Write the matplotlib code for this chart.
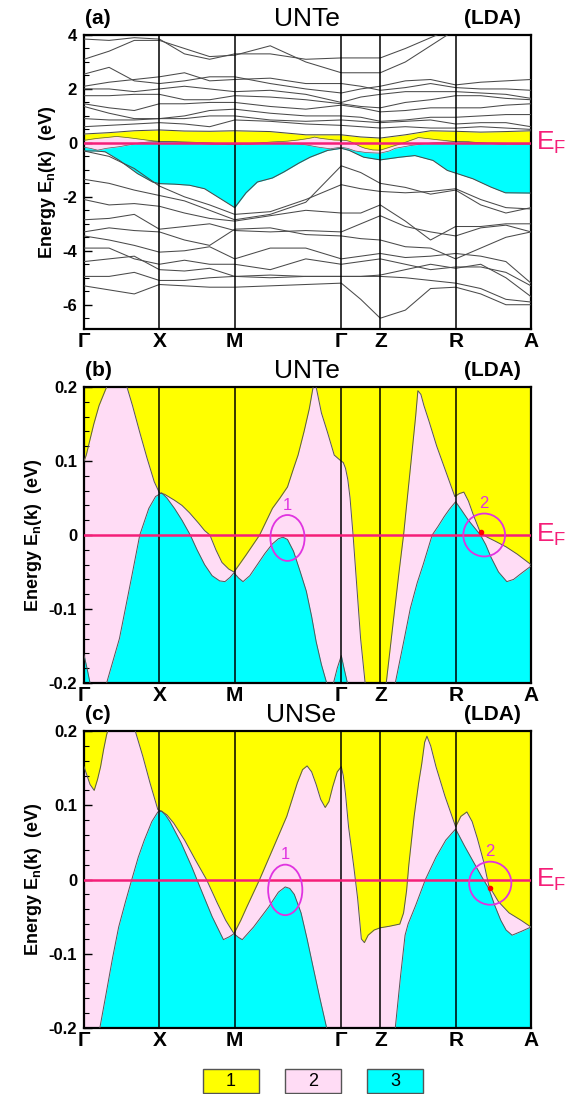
import numpy as np
import matplotlib
matplotlib.use('Agg')
import matplotlib.pyplot as plt
from matplotlib.patches import Ellipse, Rectangle
from matplotlib.ticker import MultipleLocator

plt.rcParams['font.family'] = ['Liberation Sans', 'DejaVu Sans']
plt.rcParams['axes.unicode_minus'] = False
plt.rcParams['mathtext.fontset'] = 'custom'
plt.rcParams['mathtext.rm'] = 'Liberation Sans'
plt.rcParams['mathtext.bf'] = 'Liberation Sans:bold'

# high-symmetry points along the path
kpts = [0.0, 1.0, 2.0, 3.414, 3.931, 4.931, 5.931]
klabels = ['Γ', 'X', 'M', 'Γ', 'Z', 'R', 'A']

# ---------- panel (a): UNTe bands over the wide window ----------
k18 = [0.0, 0.333, 0.667, 1.0, 1.333, 1.667, 2.0, 2.471, 2.943, 3.414,
       3.672, 3.931, 4.264, 4.598, 4.931, 5.264, 5.598, 5.931]
bands_up = [
    [3.85, 3.8, 3.9, 3.85, 3.3, 3.1, 3.3, 3.3, 3.1, 3.15, 3.15, 3.15, 3.5, 3.9, 4.3, 4.5, 4.5, 4.5],
    [3.1, 3.4, 3.8, 3.8, 3.5, 3.2, 3.25, 3.6, 3.0, 2.6, 2.6, 2.6, 3.0, 3.6, 4.2, 4.5, 4.5, 4.5],
    [2.55, 2.8, 2.3, 2.2, 2.3, 2.45, 2.45, 2.2, 2.0, 1.85, 2.0, 2.1, 2.3, 2.35, 2.15, 2.25, 2.3, 2.35],
    [2.1, 2.25, 2.35, 2.45, 2.6, 2.3, 2.35, 2.4, 2.2, 2.2, 2.1, 1.95, 2.05, 2.2, 2.05, 2.0, 2.0, 1.95],
    [2.0, 2.0, 1.9, 2.0, 2.1, 2.0, 1.9, 1.95, 1.8, 1.5, 1.7, 1.8, 1.9, 1.9, 1.9, 1.85, 1.8, 1.65],
    [1.75, 1.75, 1.8, 1.8, 1.6, 1.6, 1.75, 1.7, 1.6, 1.45, 1.35, 1.3, 1.5, 1.6, 1.75, 1.75, 1.65, 1.6],
    [1.45, 1.3, 1.2, 1.45, 1.45, 1.5, 1.5, 1.35, 1.25, 1.4, 1.3, 1.15, 1.2, 1.3, 1.3, 1.3, 1.4, 1.45],
    [1.35, 1.1, 0.9, 0.9, 1.0, 1.2, 1.25, 1.1, 1.0, 1.0, 0.95, 0.8, 0.85, 0.95, 0.95, 1.0, 1.05, 1.05],
    [0.9, 0.85, 0.85, 0.9, 0.9, 1.0, 1.0, 0.85, 0.8, 0.85, 0.8, 0.75, 0.8, 0.85, 0.7, 0.75, 0.75, 0.6],
    [0.6, 0.65, 0.7, 0.75, 0.7, 0.6, 0.85, 0.8, 0.7, 0.65, 0.6, 0.55, 0.6, 0.55, 0.55, 0.6, 0.55, 0.5],
]
band_top = [0.33, 0.38, 0.45, 0.48, 0.44, 0.43, 0.45, 0.42, 0.3, 0.3, 0.22, 0.18, 0.3, 0.45, 0.43, 0.4, 0.42, 0.45]
bands_low = [
    [-0.3, -0.5, -0.95, -1.6, -2.0, -2.3, -2.65, -2.55, -2.1, -1.55, -1.7, -1.8, -1.85, -1.8, -1.7, -2.1, -2.4, -2.45],
    [-1.35, -1.5, -1.75, -1.95, -2.15, -2.5, -2.85, -2.65, -2.2, -0.85, -1.1, -1.5, -1.65, -1.9, -1.75, -2.3, -2.6, -2.4],
    [-2.1, -2.3, -2.25, -2.35, -2.6, -2.8, -2.9, -2.7, -2.5, -2.6, -2.6, -2.3, -2.9, -3.6, -3.1, -3.1, -3.0, -3.0],
    [-2.85, -2.8, -2.65, -3.2, -3.1, -3.0, -3.25, -3.3, -3.25, -3.3, -3.0, -2.7, -3.1, -3.3, -3.45, -3.15, -3.05, -3.3],
    [-3.3, -3.15, -3.25, -3.3, -3.6, -3.8, -3.2, -3.15, -3.4, -3.45, -3.55, -3.6, -3.85, -3.9, -4.3, -3.9, -3.5, -3.3],
    [-3.45, -3.6, -3.8, -4.05, -4.0, -3.85, -4.3, -3.9, -3.9, -4.3, -4.2, -4.1, -4.25, -4.2, -4.1, -4.2, -4.4, -5.2],
    [-3.9, -3.9, -4.3, -4.5, -4.35, -4.5, -4.5, -4.7, -4.3, -4.5, -4.4, -4.3, -4.5, -4.7, -4.6, -4.6, -4.8, -5.3],
    [-4.4, -4.3, -4.2, -4.7, -4.75, -4.65, -4.95, -4.9, -4.95, -4.95, -4.95, -4.9, -4.7, -4.5, -4.65, -4.5, -5.0, -5.7],
    [-4.95, -4.95, -4.8, -5.1, -5.1, -5.0, -4.95, -5.0, -4.95, -4.95, -4.95, -4.95, -5.0, -5.1, -5.2, -5.4, -5.8, -5.9],
    [-5.3, -5.45, -5.6, -5.25, -5.3, -5.35, -5.35, -5.3, -5.25, -5.2, -5.8, -6.5, -6.2, -5.4, -5.35, -5.6, -6.0, -6.0],
]
# lower edge of the cyan sheet in (a)
k_bot = [0.0, 0.15, 0.28, 0.47, 0.71, 0.91, 1.0, 1.2, 1.4, 1.6, 1.8, 2.0, 2.15, 2.3, 2.5, 2.65,
         2.85, 3.0, 3.23, 3.414, 3.52, 3.71, 3.931, 4.19, 4.39, 4.63, 4.82, 4.931, 5.16, 5.4, 5.59, 5.931]
e_bot = [-0.3, -0.3, -0.33, -0.65, -1.14, -1.45, -1.51, -1.53, -1.57, -1.7, -2.05, -2.4, -1.85, -1.45,
         -1.3, -1.08, -0.75, -0.53, -0.28, -0.2, -0.28, -0.53, -0.63, -0.53, -0.47, -0.65, -1.02, -1.12,
         -1.33, -1.64, -1.85, -1.86]

# ---------- UNTe bands near E_F (panel b, also used in a) ----------
k_te1 = [0.0, 0.03, 0.07, 0.13, 0.2, 0.3, 0.43, 0.57, 0.643, 0.739, 0.836, 0.932, 1.0, 1.07, 1.2, 1.3,
         1.4, 1.52, 1.6, 1.67, 1.75, 1.83, 1.92, 1.99, 2.06, 2.15, 2.25, 2.33, 2.5, 2.6, 2.7, 2.78,
         2.84, 2.92, 2.99, 3.04, 3.06, 3.08, 3.1, 3.15, 3.23, 3.32, 3.41, 3.44, 3.47, 3.5, 3.53, 3.57,
         3.62, 3.67, 3.73, 3.83, 3.93, 4.01, 4.1, 4.18, 4.24, 4.3, 4.36, 4.4, 4.43, 4.47, 4.51, 4.58,
         4.68, 4.8, 4.92, 4.98, 5.04, 5.1, 5.17, 5.26, 5.35, 5.45, 5.6, 5.75, 5.931]
e_te1 = [0.1, 0.108, 0.125, 0.15, 0.175, 0.2, 0.24, 0.2, 0.175, 0.139, 0.104, 0.072, 0.057, 0.055, 0.047, 0.04,
         0.03, 0.016, 0.006, 0.0, -0.02, -0.037, -0.046, -0.05, -0.04, -0.027, -0.012, 0.0, 0.036, 0.05, 0.065, 0.09,
         0.108, 0.14, 0.171, 0.2, 0.215, 0.2, 0.19, 0.165, 0.139, 0.108, 0.1, 0.098, 0.09, 0.075, 0.05, 0.0,
         -0.07, -0.14, -0.2, -0.26, -0.27, -0.2, -0.12, -0.05, 0.0, 0.06, 0.12, 0.16, 0.195, 0.19, 0.175, 0.153,
         0.12, 0.086, 0.052, 0.056, 0.058, 0.046, 0.026, 0.003, -0.003, -0.008, -0.016, -0.026, -0.04]
k_te2 = [0.0, 0.04, 0.08, 0.18, 0.3, 0.47, 0.62, 0.74, 0.86, 0.95, 1.03, 1.1, 1.2, 1.3, 1.41, 1.5,
         1.6, 1.7, 1.8, 1.87, 1.94, 1.99, 2.05, 2.11, 2.2, 2.3, 2.4, 2.5, 2.58, 2.64, 2.7, 2.78,
         2.87, 2.95, 3.02, 3.08, 3.15, 3.22, 3.27, 3.31, 3.36, 3.414, 3.45, 3.495, 3.6, 3.75, 3.93, 4.05,
         4.13, 4.25, 4.33, 4.42, 4.5, 4.62, 4.7, 4.78, 4.85, 4.931, 5.0, 5.1, 5.18, 5.26, 5.33, 5.4,
         5.5, 5.61, 5.7, 5.8, 5.931]
e_te2 = [-0.162, -0.18, -0.2, -0.27, -0.2, -0.14, -0.063, 0.0, 0.036, 0.052, 0.057, 0.05, 0.036, 0.02, 0.0, -0.02,
         -0.04, -0.055, -0.062, -0.063, -0.057, -0.051, -0.058, -0.063, -0.055, -0.04, -0.025, -0.012, -0.005, -0.003, -0.006, -0.022,
         -0.05, -0.076, -0.11, -0.144, -0.175, -0.2, -0.22, -0.2, -0.18, -0.163, -0.18, -0.2, -0.3, -0.36, -0.38, -0.3,
         -0.2, -0.14, -0.099, -0.065, -0.04, 0.0, 0.012, 0.025, 0.035, 0.045, 0.035, 0.02, 0.01, 0.0, -0.013, -0.03,
         -0.05, -0.063, -0.06, -0.052, -0.042]

# ---------- UNSe bands near E_F (panel c) ----------
k_se1 = [0.0, 0.04, 0.08, 0.135, 0.18, 0.22, 0.26, 0.3, 0.33, 0.5, 0.68, 0.78, 0.876, 0.98, 1.03, 1.1,
         1.19, 1.335, 1.48, 1.625, 1.77, 1.88, 1.99, 2.08, 2.16, 2.33, 2.5, 2.69, 2.83, 2.9, 2.96, 3.02,
         3.08, 3.14, 3.2, 3.25, 3.3, 3.36, 3.414, 3.44, 3.47, 3.51, 3.58, 3.63, 3.68, 3.72, 3.77, 3.85,
         3.931, 4.05, 4.19, 4.24, 4.28, 4.31, 4.38, 4.44, 4.48, 4.52, 4.55, 4.6, 4.67, 4.79, 4.931, 5.0,
         5.08, 5.15, 5.22, 5.3, 5.37, 5.5, 5.64, 5.8, 5.931]
e_se1 = [0.152, 0.14, 0.128, 0.12, 0.135, 0.152, 0.175, 0.195, 0.205, 0.24, 0.2, 0.166, 0.13, 0.094, 0.092, 0.087,
         0.076, 0.053, 0.026, 0.0, -0.032, -0.055, -0.073, -0.055, -0.037, 0.0, 0.04, 0.085, 0.13, 0.148, 0.153, 0.145,
         0.128, 0.108, 0.097, 0.105, 0.125, 0.145, 0.152, 0.14, 0.115, 0.071, 0.017, -0.025, -0.08, -0.085, -0.075, -0.068,
         -0.065, -0.063, -0.06, -0.045, -0.015, 0.02, 0.085, 0.13, 0.155, 0.185, 0.193, 0.18, 0.152, 0.112, 0.071, 0.085,
         0.091, 0.078, 0.055, 0.025, -0.008, -0.03, -0.045, -0.055, -0.064]
k_se2 = [0.0, 0.1, 0.21, 0.3, 0.38, 0.46, 0.55, 0.634, 0.72, 0.8, 0.9, 0.98, 1.03, 1.08, 1.14, 1.29,
         1.43, 1.55, 1.7, 1.85, 1.93, 1.99, 2.05, 2.1, 2.25, 2.45, 2.58, 2.67, 2.73, 2.79, 2.88, 2.96,
         3.04, 3.13, 3.22, 3.5, 3.8, 4.0, 4.13, 4.2, 4.26, 4.3, 4.4, 4.53, 4.67, 4.8, 4.931, 5.05,
         5.16, 5.27, 5.37, 5.45, 5.53, 5.6, 5.68, 5.8, 5.931]
e_se2 = [-0.32, -0.27, -0.2, -0.15, -0.105, -0.064, -0.03, 0.0, 0.03, 0.053, 0.078, 0.091, 0.092, 0.087, 0.078, 0.049,
         0.017, -0.013, -0.05, -0.081, -0.077, -0.073, -0.078, -0.081, -0.064, -0.037, -0.017, -0.01, -0.012, -0.02, -0.045, -0.08,
         -0.118, -0.16, -0.2, -0.35, -0.4, -0.33, -0.2, -0.13, -0.075, -0.06, -0.035, 0.0, 0.03, 0.053, 0.068, 0.045,
         0.025, 0.005, -0.012, -0.035, -0.055, -0.068, -0.075, -0.07, -0.064]

# marked crossings: (k, E) centre, half-width in k, half-height in eV
rings_te = [(2.70, -0.004, 0.227, 0.031), (5.31, 0.0, 0.277, 0.029)]
rings_se = [(2.67, -0.014, 0.227, 0.034), (5.39, -0.005, 0.28, 0.029)]
dot_te = (5.27, 0.004)
dot_se = (5.385, -0.011)

YEL = '#FFFF00'
PINK = '#FFDCF5'
CYAN = '#00FFFF'
EFC = '#F51E78'
MAG = '#E033E0'
EDGE = '#555555'
BAND = '#4a4a4a'

W, H = 570, 1094
fig = plt.figure(figsize=(W / 100, H / 100), dpi=100)


def box(x0, y0, x1, y1):
    return [x0 / W, 1 - y1 / H, (x1 - x0) / W, (y1 - y0) / H]


def fx(x):
    return x / W


def fy(y):
    return 1 - y / H


ax_a = fig.add_axes(box(84, 35, 531, 329))
ax_b = fig.add_axes(box(84, 387, 531, 683))
ax_c = fig.add_axes(box(84, 731, 531, 1028))


def frame(ax, lo, hi):
    ax.set_xlim(kpts[0], kpts[-1])
    ax.set_ylim(lo, hi)
    for s in ax.spines.values():
        s.set_linewidth(1.6)
    for k in kpts[1:-1]:
        ax.axvline(k, color='black', lw=1.1, zorder=4)
    ax.axhline(0, color=EFC, lw=1.8, zorder=5)
    ax.set_xticks(kpts)
    ax.set_xticklabels(klabels, fontsize=15, fontweight='bold')
    ax.tick_params(axis='x', length=0, pad=2)
    ax.tick_params(axis='y', which='both', direction='in', right=False, labelsize=12, pad=5)
    ax.tick_params(axis='y', which='major', length=6, width=1)
    ax.tick_params(axis='y', which='minor', length=3.5, width=0.8)
    ax.set_ylabel(r'Energy E$_\mathbf{n}$($\mathbf{k}$)  (eV)', fontsize=13,
                  fontweight='bold', labelpad=3)


def heads(tag, name, y_top, name_x=307):
    fig.text(fx(85), fy(y_top - 17), tag, fontsize=15, fontweight='bold', va='center', ha='left')
    fig.text(fx(name_x), fy(y_top - 16), name, fontsize=19, va='center', ha='center')
    fig.text(fx(521), fy(y_top - 17), '(LDA)', fontsize=15, fontweight='bold', va='center', ha='right')


def ef_tag(ax):
    ax.text(1.012, 0, r'E$_\mathrm{F}$', transform=ax.get_yaxis_transform(), color=EFC,
            fontsize=19, va='center', ha='left')


# ---- panel (a)
ax = ax_a
ax.fill_between(k18, band_top, -8, color=YEL, lw=0, zorder=1)
ax.fill_between(k_te1, e_te1, -8, color=PINK, lw=0, zorder=1)
ax.fill_between(k_te2, e_te2, -8, color=CYAN, lw=0, zorder=1)
ax.fill_between(k_bot, e_bot, -8, color='white', lw=0, zorder=1)
for b in bands_up + bands_low:
    ax.plot(k18, b, color=BAND, lw=0.75, zorder=3)
ax.plot(k18, band_top, color=BAND, lw=0.75, zorder=3)
ax.plot(k_bot, e_bot, color=BAND, lw=0.75, zorder=3)
ax.plot(k_te1, e_te1, color=EDGE, lw=0.5, zorder=3)
ax.plot(k_te2, e_te2, color=EDGE, lw=0.5, zorder=3)
frame(ax, -6.9, 4)
ax.set_yticks([-6, -4, -2, 0, 2, 4])
ax.set_yticklabels(['-6', '-4', '-2', '0', '2', '4'], fontweight='bold')
ax.yaxis.set_minor_locator(MultipleLocator(0.5))
heads('(a)', 'UNTe', 35)
ef_tag(ax)


def near_ef(ax, k1, e1, k2, e2, rings, dot):
    ax.set_facecolor(YEL)
    ax.fill_between(k1, e1, -1, color=PINK, lw=0, zorder=1)
    ax.fill_between(k2, e2, -1, color=CYAN, lw=0, zorder=1)
    ax.plot(k1, e1, color=EDGE, lw=0.7, zorder=3)
    ax.plot(k2, e2, color=EDGE, lw=0.7, zorder=3)
    frame(ax, -0.2, 0.2)
    ax.set_yticks([-0.2, -0.1, 0, 0.1, 0.2])
    ax.set_yticklabels(['-0.2', '-0.1', '0', '0.1', '0.2'], fontweight='bold')
    ax.yaxis.set_minor_locator(MultipleLocator(0.02))
    for i, (kc, ec, hw, hh) in enumerate(rings):
        ax.add_patch(Ellipse((kc, ec), 2 * hw, 2 * hh, fill=False, ec=MAG, lw=1.3, zorder=6))
        ax.text(kc, ec + hh + 0.003, str(i + 1), color=MAG, fontsize=12, ha='center', va='bottom', zorder=6)
    ax.plot([dot[0]], [dot[1]], 'o', color='red', ms=3, zorder=7)
    ef_tag(ax)


near_ef(ax_b, k_te1, e_te1, k_te2, e_te2, rings_te, dot_te)
heads('(b)', 'UNTe', 387)
near_ef(ax_c, k_se1, e_se1, k_se2, e_se2, rings_se, dot_se)
heads('(c)', 'UNSe', 731, name_x=301)

# key boxes for the three sheets
for x0, col, num in [(203, YEL, '1'), (285, PINK, '2'), (367, CYAN, '3')]:
    fig.patches.append(Rectangle((fx(x0), fy(1093)), 56 / W, 24 / H, transform=fig.transFigure,
                                 facecolor=col, edgecolor='#555555', lw=1))
    fig.text(fx(x0 + 28), fy(1081), num, fontsize=13, ha='center', va='center')

fig.savefig('out.png', dpi=100)
